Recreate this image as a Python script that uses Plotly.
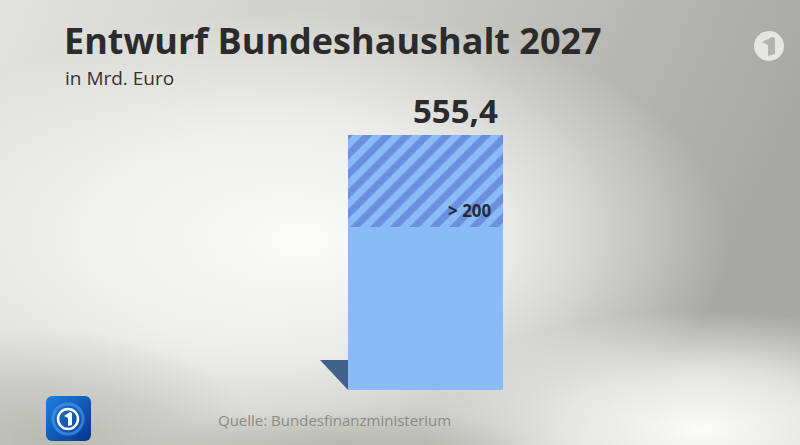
import base64
import plotly.graph_objects as go

# ---- data ----
categories = ["2027"]
total_values = [555.4]          # Gesamt (Mrd. Euro)
hatched_values = [200]          # schraffierter Teil ("> 200")
total_labels = ["555,4"]
hatched_labels = ["> 200"]
base_values = [t - h for t, h in zip(total_values, hatched_values)]

title_text = "Entwurf Bundeshaushalt 2027"
subtitle_text = "in Mrd. Euro"
source_text = "Quelle: Bundesfinanzministerium"

W, H = 800, 445
FONT = "Open Sans, Noto Sans, sans-serif"

def px(x):
    return x / W

def py(y):
    return (H - y) / H

# ---- background (gradient + logos) as an SVG image ----
svg = f"""<svg xmlns='http://www.w3.org/2000/svg' width='{W}' height='{H}' viewBox='0 0 {W} {H}'>
<defs>
<linearGradient id='g0' x1='0' y1='0' x2='1' y2='0.25'>
<stop offset='0' stop-color='#e2e2df'/>
<stop offset='0.45' stop-color='#cdcdc8'/>
<stop offset='1' stop-color='#a8a8a2'/>
</linearGradient>
<radialGradient id='hl'>
<stop offset='0' stop-color='#fbfbf9' stop-opacity='1'/>
<stop offset='0.5' stop-color='#fbfbf9' stop-opacity='0.7'/>
<stop offset='1' stop-color='#fbfbf9' stop-opacity='0'/>
</radialGradient>
<radialGradient id='dk'>
<stop offset='0' stop-color='#aeaea6' stop-opacity='0.7'/>
<stop offset='1' stop-color='#aeaea6' stop-opacity='0'/>
</radialGradient>
<linearGradient id='ts' x1='0' y1='0' x2='1' y2='1'>
<stop offset='0' stop-color='#1f80e0'/>
<stop offset='1' stop-color='#06358a'/>
</linearGradient>
</defs>
<rect width='{W}' height='{H}' fill='url(#g0)'/>
<ellipse cx='300' cy='240' rx='430' ry='230' fill='url(#hl)'/>
<ellipse cx='700' cy='430' rx='280' ry='120' fill='url(#hl)'/>
<ellipse cx='40' cy='440' rx='220' ry='110' fill='url(#dk)'/>
<ellipse cx='330' cy='450' rx='200' ry='40' fill='url(#dk)'/>
<circle cx='769' cy='46' r='15' fill='#ebebe8' fill-opacity='0.9'/>
<path d='M762 42 L772 37 L775 38 L775 54 L768 56 L768 45 Z' fill='#b4b4ae'/>
<rect x='46' y='396' width='45' height='45' rx='6' fill='url(#ts)'/>
<circle cx='68' cy='419' r='15' fill='none' stroke='#4aa0ff' stroke-width='3' stroke-opacity='0.6'/>
<circle cx='68' cy='419' r='10' fill='none' stroke='#ffffff' stroke-width='2.5'/>
<path d='M64 416 L70 412 L72 413 L72 425 L68 426 L68 418 Z' fill='#ffffff'/>
</svg>"""
svg_uri = "data:image/svg+xml;base64," + base64.b64encode(svg.encode()).decode()

fig = go.Figure()

BAR_COLOR = "#89bcf6"
HATCH_COLOR = "#6b8fdd"

# solid part
fig.add_trace(go.Bar(
    x=categories, y=base_values,
    marker=dict(color=BAR_COLOR, line=dict(width=0)),
    hoverinfo="skip", showlegend=False,
))
# hatched part
fig.add_trace(go.Bar(
    x=categories, y=hatched_values,
    marker=dict(
        color=BAR_COLOR, line=dict(width=0),
        pattern=dict(shape="/", fgcolor=HATCH_COLOR, bgcolor=BAR_COLOR, fgopacity=1,
                     size=14, solidity=0.5),
    ),
    hoverinfo="skip", showlegend=False,
))

# shadow triangle at the lower left of the bar
fig.add_shape(
    type="path",
    path=f"M {px(320)} {py(360)} L {px(348)} {py(360)} L {px(348)} {py(390)} Z",
    xref="paper", yref="paper",
    fillcolor="#41628a", line=dict(width=0), layer="below",
)

annotations = [
    dict(text=f"<b>{title_text}</b>", x=px(62), y=py(41), xanchor="left", yanchor="middle",
         font=dict(family=FONT, size=36, color="#2b2b2b")),
    dict(text=subtitle_text, x=px(63), y=py(78), xanchor="left", yanchor="middle",
         font=dict(family=FONT, size=19, color="#333333")),
    dict(text=f"<b>{total_labels[0]}</b>", x=px(500), y=py(110), xanchor="right", yanchor="middle",
         font=dict(family=FONT, size=33, color="#2b2b2b")),
    dict(text=f"<b>{hatched_labels[0]}</b>", x=px(494), y=py(210), xanchor="right", yanchor="middle",
         font=dict(family=FONT, size=17, color="#262a35")),
    dict(text=source_text, x=px(216), y=py(420), xanchor="left", yanchor="middle",
         font=dict(family=FONT, size=15, color="#8a8a86")),
]
for a in annotations:
    a.update(xref="paper", yref="paper", showarrow=False)

fig.update_layout(
    width=W, height=H,
    margin=dict(l=0, r=0, t=0, b=0),
    paper_bgcolor="#d8d8d4", plot_bgcolor="rgba(0,0,0,0)",
    barmode="stack", bargap=0,
    xaxis=dict(domain=[px(348), px(503)], visible=False, fixedrange=True),
    yaxis=dict(domain=[py(390), py(135)], range=[0, total_values[0]], visible=False, fixedrange=True),
    annotations=annotations,
    images=[dict(source=svg_uri, xref="paper", yref="paper", x=0, y=1, sizex=1, sizey=1,
                 xanchor="left", yanchor="top", sizing="stretch", layer="below")],
)

fig.write_html(
    "out.html",
    config={"displayModeBar": False},
    post_script="document.body.style.margin='0';document.body.style.overflow='hidden';",
)
